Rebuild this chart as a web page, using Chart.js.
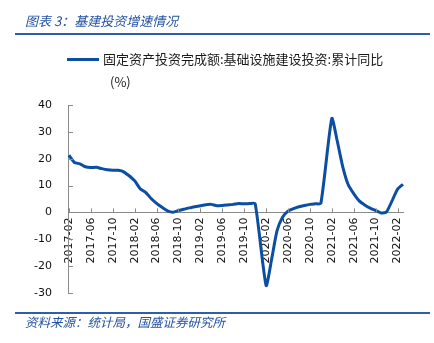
<!DOCTYPE html>
<html>
<head>
<meta charset="utf-8">
<script src="https://cdn.jsdelivr.net/npm/chart.js@4/dist/chart.umd.min.js"></script>
<style>
  body { margin: 0; background: #fff; }
  #wrap { position: relative; width: 434px; height: 343px; overflow: hidden; }
  #wrap canvas { position: absolute; left: 0; top: 0; }
  .title, .source {
    position: absolute; left: 25px; color: #24529f;
    font-family: "Noto Sans CJK SC", sans-serif; font-style: italic; font-size: 13px; line-height: 16px;
    white-space: nowrap;
  }
  .title { top: 13px; }
  .source { top: 314px; font-size: 12.5px; }
  .rule { position: absolute; left: 15px; width: 415px; height: 2px; background: #2f5ea8; }
  .legend {
    position: absolute; left: 67px; top: 51px; height: 16px;
    font-family: "Noto Sans CJK SC", sans-serif; font-size: 13px; line-height: 16px; color: #1a1a1a;
    white-space: nowrap;
  }
  .legend .swatch { display: inline-block; width: 32px; height: 3px; background: #0b4ea2; vertical-align: middle; margin-right: 4px; position: relative; top: -1px; }
  .unit {
    position: absolute; left: 110px; top: 74px;
    font-family: "Noto Sans CJK SC", sans-serif; font-size: 13px; line-height: 16px; color: #1a1a1a;
  }
</style>
</head>
<body>
<div id="wrap">
  <canvas id="infraChart" width="434" height="343"></canvas>
  <div class="title">图表 3：基建投资增速情况</div>
  <div class="rule" style="top:33px"></div>
  <div class="legend"><span class="swatch"></span>固定资产投资完成额:基础设施建设投资:累计同比</div>
  <div class="unit">(%)</div>
  <div class="rule" style="top:312px"></div>
  <div class="source">资料来源：统计局，国盛证券研究所</div>
</div>
<script>
// 月份 2017-02 ~ 2022-03（1月无单独数据，留空）
const months = [
  '2017-02','2017-03','2017-04','2017-05','2017-06','2017-07','2017-08','2017-09','2017-10','2017-11','2017-12',
  '2018-01','2018-02','2018-03','2018-04','2018-05','2018-06','2018-07','2018-08','2018-09','2018-10','2018-11','2018-12',
  '2019-01','2019-02','2019-03','2019-04','2019-05','2019-06','2019-07','2019-08','2019-09','2019-10','2019-11','2019-12',
  '2020-01','2020-02','2020-03','2020-04','2020-05','2020-06','2020-07','2020-08','2020-09','2020-10','2020-11','2020-12',
  '2021-01','2021-02','2021-03','2021-04','2021-05','2021-06','2021-07','2021-08','2021-09','2021-10','2021-11','2021-12',
  '2022-01','2022-02','2022-03'
];

// 基础设施建设投资累计同比（%）
const infraYoY = [
  21.3, 18.6, 18.1, 17.0, 16.7, 16.8, 16.3, 15.9, 15.7, 15.7, 15.1,
  null, 11.8, 8.8, 7.5, 5.2, 3.4, 1.9, 0.6, 0.1, 0.7, 1.2, 1.7,
  null, 2.5, 2.9, 3.0, 2.5, 2.6, 2.8, 3.0, 3.3, 3.2, 3.3, 3.3,
  null, -27.2, -17.5, -6.8, -1.8, 0.5, 1.4, 2.1, 2.6, 3.0, 3.2, 3.4,
  null, 35.0, 26.5, 17.0, 10.3, 7.0, 4.3, 2.8, 1.6, 0.7, -0.2, 0.2,
  null, 8.6, 10.5
];

const yTicks = [40, 30, 20, 10, 0, -10, -20, -30];
const labelStep = 4;

const AXIS_COLOR = '#8a8a8a';

// 坐标轴内侧的小刻度线
const innerTicks = {
  id: 'innerTicks',
  afterDatasetsDraw(chart) {
    const { ctx, scales: { x, y } } = chart;
    const y0 = y.getPixelForValue(0);
    ctx.save();
    ctx.strokeStyle = AXIS_COLOR;
    ctx.lineWidth = 1;
    ctx.beginPath();
    months.forEach((m, i) => {
      if (i % labelStep !== 0) return;
      const px = Math.round(x.getPixelForValue(i)) + 0.5;
      ctx.moveTo(px, y0);
      ctx.lineTo(px, y0 - 4);
    });
    yTicks.forEach(v => {
      const py = Math.round(y.getPixelForValue(v)) + 0.5;
      ctx.moveTo(x.left, py);
      ctx.lineTo(x.left + 4, py);
    });
    ctx.stroke();
    ctx.restore();
  }
};

const tickFont = { family: 'DejaVu Sans', size: 11 };

new Chart(document.getElementById('infraChart'), {
  type: 'line',
  data: {
    labels: months,
    datasets: [{
      label: '固定资产投资完成额:基础设施建设投资:累计同比',
      data: infraYoY,
      borderColor: '#0b4ea2',
      borderWidth: 3,
      pointRadius: 0,
      tension: 0.2,
      spanGaps: true,
      fill: false
    }]
  },
  options: {
    responsive: false,
    animation: false,
    layout: { padding: { left: 17, right: 31, top: 105, bottom: 50 } },
    plugins: {
      legend: { display: false },
      tooltip: { enabled: false }
    },
    scales: {
      x: {
        type: 'category',
        position: { y: 0 },
        offset: false,
        grid: { display: false, drawTicks: false },
        border: { display: true, color: AXIS_COLOR, width: 1 },
        ticks: {
          autoSkip: false,
          minRotation: 90,
          maxRotation: 90,
          padding: 5,
          color: '#111',
          font: tickFont,
          callback: (val, i) => (i % labelStep === 0 ? months[i] : '')
        }
      },
      y: {
        min: -30,
        max: 40,
        grid: { display: false, drawTicks: false },
        border: { display: true, color: AXIS_COLOR, width: 1 },
        afterBuildTicks: axis => { axis.ticks = yTicks.map(v => ({ value: v })); },
        ticks: {
          padding: 17,
          color: '#111',
          font: tickFont
        }
      }
    }
  },
  plugins: [innerTicks]
});
</script>
</body>
</html>
